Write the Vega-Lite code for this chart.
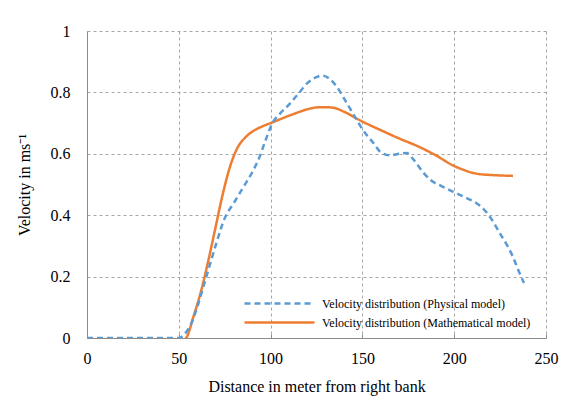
{
  "$schema": "https://vega.github.io/schema/vega-lite/v6.json",
  "width": 459,
  "height": 307,
  "autosize": {"type": "none"},
  "padding": {"left": 87, "top": 31, "right": 36, "bottom": 74},
  "background": "white",
  "config": {
    "view": {"stroke": null},
    "font": "Liberation Serif",
    "axis": {"labelFont": "Liberation Serif", "titleFont": "Liberation Serif"},
    "legend": {"labelFont": "Liberation Serif"}
  },
  "data": {
    "values": [
      {"series": "Velocity distribution (Mathematical model)", "d": 28, "v": 0},
      {"series": "Velocity distribution (Mathematical model)", "d": 35, "v": -0.01},
      {"series": "Velocity distribution (Mathematical model)", "d": 42, "v": -0.02},
      {"series": "Velocity distribution (Mathematical model)", "d": 48, "v": -0.02},
      {"series": "Velocity distribution (Mathematical model)", "d": 54, "v": 0},
      {"series": "Velocity distribution (Mathematical model)", "d": 58, "v": 0.07},
      {"series": "Velocity distribution (Mathematical model)", "d": 62, "v": 0.15},
      {"series": "Velocity distribution (Mathematical model)", "d": 66, "v": 0.25},
      {"series": "Velocity distribution (Mathematical model)", "d": 70, "v": 0.36},
      {"series": "Velocity distribution (Mathematical model)", "d": 74, "v": 0.47},
      {"series": "Velocity distribution (Mathematical model)", "d": 78, "v": 0.56},
      {"series": "Velocity distribution (Mathematical model)", "d": 82, "v": 0.62},
      {"series": "Velocity distribution (Mathematical model)", "d": 86, "v": 0.652},
      {"series": "Velocity distribution (Mathematical model)", "d": 90, "v": 0.672},
      {"series": "Velocity distribution (Mathematical model)", "d": 95, "v": 0.688},
      {"series": "Velocity distribution (Mathematical model)", "d": 100, "v": 0.70},
      {"series": "Velocity distribution (Mathematical model)", "d": 105, "v": 0.712},
      {"series": "Velocity distribution (Mathematical model)", "d": 110, "v": 0.724},
      {"series": "Velocity distribution (Mathematical model)", "d": 115, "v": 0.735},
      {"series": "Velocity distribution (Mathematical model)", "d": 120, "v": 0.745},
      {"series": "Velocity distribution (Mathematical model)", "d": 125, "v": 0.751},
      {"series": "Velocity distribution (Mathematical model)", "d": 130, "v": 0.752},
      {"series": "Velocity distribution (Mathematical model)", "d": 135, "v": 0.749},
      {"series": "Velocity distribution (Mathematical model)", "d": 140, "v": 0.737},
      {"series": "Velocity distribution (Mathematical model)", "d": 150, "v": 0.705},
      {"series": "Velocity distribution (Mathematical model)", "d": 160, "v": 0.677},
      {"series": "Velocity distribution (Mathematical model)", "d": 170, "v": 0.65},
      {"series": "Velocity distribution (Mathematical model)", "d": 180, "v": 0.625},
      {"series": "Velocity distribution (Mathematical model)", "d": 190, "v": 0.595},
      {"series": "Velocity distribution (Mathematical model)", "d": 200, "v": 0.56},
      {"series": "Velocity distribution (Mathematical model)", "d": 205, "v": 0.548},
      {"series": "Velocity distribution (Mathematical model)", "d": 210, "v": 0.538},
      {"series": "Velocity distribution (Mathematical model)", "d": 215, "v": 0.533},
      {"series": "Velocity distribution (Mathematical model)", "d": 220, "v": 0.531},
      {"series": "Velocity distribution (Mathematical model)", "d": 232, "v": 0.528},
      {"series": "Velocity distribution (Physical model)", "d": 0, "v": 0},
      {"series": "Velocity distribution (Physical model)", "d": 10, "v": 0},
      {"series": "Velocity distribution (Physical model)", "d": 20, "v": 0},
      {"series": "Velocity distribution (Physical model)", "d": 30, "v": 0},
      {"series": "Velocity distribution (Physical model)", "d": 40, "v": 0},
      {"series": "Velocity distribution (Physical model)", "d": 50, "v": 0},
      {"series": "Velocity distribution (Physical model)", "d": 53, "v": 0.012},
      {"series": "Velocity distribution (Physical model)", "d": 57, "v": 0.05},
      {"series": "Velocity distribution (Physical model)", "d": 60, "v": 0.1},
      {"series": "Velocity distribution (Physical model)", "d": 65, "v": 0.2},
      {"series": "Velocity distribution (Physical model)", "d": 70, "v": 0.3},
      {"series": "Velocity distribution (Physical model)", "d": 75, "v": 0.39},
      {"series": "Velocity distribution (Physical model)", "d": 80, "v": 0.44},
      {"series": "Velocity distribution (Physical model)", "d": 85, "v": 0.49},
      {"series": "Velocity distribution (Physical model)", "d": 90, "v": 0.54},
      {"series": "Velocity distribution (Physical model)", "d": 94, "v": 0.59},
      {"series": "Velocity distribution (Physical model)", "d": 97, "v": 0.64},
      {"series": "Velocity distribution (Physical model)", "d": 101, "v": 0.70},
      {"series": "Velocity distribution (Physical model)", "d": 105, "v": 0.73},
      {"series": "Velocity distribution (Physical model)", "d": 110, "v": 0.76},
      {"series": "Velocity distribution (Physical model)", "d": 115, "v": 0.795},
      {"series": "Velocity distribution (Physical model)", "d": 120, "v": 0.83},
      {"series": "Velocity distribution (Physical model)", "d": 125, "v": 0.85},
      {"series": "Velocity distribution (Physical model)", "d": 128, "v": 0.855},
      {"series": "Velocity distribution (Physical model)", "d": 132, "v": 0.845},
      {"series": "Velocity distribution (Physical model)", "d": 137, "v": 0.81},
      {"series": "Velocity distribution (Physical model)", "d": 141, "v": 0.77},
      {"series": "Velocity distribution (Physical model)", "d": 145, "v": 0.73},
      {"series": "Velocity distribution (Physical model)", "d": 150, "v": 0.68},
      {"series": "Velocity distribution (Physical model)", "d": 156, "v": 0.635},
      {"series": "Velocity distribution (Physical model)", "d": 160, "v": 0.605},
      {"series": "Velocity distribution (Physical model)", "d": 165, "v": 0.595},
      {"series": "Velocity distribution (Physical model)", "d": 170, "v": 0.6},
      {"series": "Velocity distribution (Physical model)", "d": 174, "v": 0.603},
      {"series": "Velocity distribution (Physical model)", "d": 178, "v": 0.58},
      {"series": "Velocity distribution (Physical model)", "d": 183, "v": 0.54},
      {"series": "Velocity distribution (Physical model)", "d": 187, "v": 0.515},
      {"series": "Velocity distribution (Physical model)", "d": 193, "v": 0.495},
      {"series": "Velocity distribution (Physical model)", "d": 201, "v": 0.472},
      {"series": "Velocity distribution (Physical model)", "d": 207, "v": 0.455},
      {"series": "Velocity distribution (Physical model)", "d": 212, "v": 0.44},
      {"series": "Velocity distribution (Physical model)", "d": 216, "v": 0.42},
      {"series": "Velocity distribution (Physical model)", "d": 220, "v": 0.39},
      {"series": "Velocity distribution (Physical model)", "d": 225, "v": 0.34},
      {"series": "Velocity distribution (Physical model)", "d": 229, "v": 0.3},
      {"series": "Velocity distribution (Physical model)", "d": 232, "v": 0.264},
      {"series": "Velocity distribution (Physical model)", "d": 235, "v": 0.22},
      {"series": "Velocity distribution (Physical model)", "d": 238, "v": 0.179}
    ]
  },
  "mark": {"type": "line", "interpolate": "monotone", "strokeWidth": 2.5, "clip": true},
  "encoding": {
    "x": {
      "field": "d", "type": "quantitative",
      "scale": {"domain": [0, 250], "nice": false},
      "axis": {
        "values": [0, 50, 100, 150, 200, 250],
        "labelFlush": false,
        "title": "Distance in meter from right bank",
        "titleFont": "Liberation Serif", "titleFontSize": 16, "titleFontWeight": "normal", "titleColor": "black",
        "titlePadding": 12,
        "labelFont": "Liberation Serif", "labelFontSize": 16, "labelColor": "black",
        "labelPadding": 16,
        "tickSize": -4, "tickColor": "#8c8c8c",
        "domainColor": "#8c8c8c",
        "grid": true, "gridDash": [3, 3], "gridColor": "#a6a6a6"
      }
    },
    "y": {
      "field": "v", "type": "quantitative",
      "scale": {"domain": [0, 1], "nice": false},
      "axis": {
        "values": [0, 0.2, 0.4, 0.6, 0.8, 1],
        "format": "~g",
        "labelFlush": false,
        "title": "Velocity in ms⁻¹",
        "titleFont": "Liberation Serif", "titleFontSize": 16, "titleFontWeight": "normal", "titleColor": "black",
        "titlePadding": 18,
        "labelFont": "Liberation Serif", "labelFontSize": 16, "labelColor": "black",
        "labelPadding": 17,
        "ticks": false,
        "domainColor": "#8c8c8c",
        "grid": true, "gridDash": [3, 3], "gridColor": "#a6a6a6"
      }
    },
    "color": {
      "field": "series", "type": "nominal",
      "scale": {
        "domain": ["Velocity distribution (Physical model)", "Velocity distribution (Mathematical model)"],
        "range": ["#5B9BD5", "#ED7D31"]
      },
      "legend": {
        "title": null,
        "orient": "none", "legendX": 186, "legendY": 266,
        "symbolType": "M-7,0H7", "symbolSize": 100, "symbolStrokeWidth": 2.5,
        "labelFont": "Liberation Serif", "labelFontSize": 12, "labelColor": "black",
        "labelOffset": 36, "labelLimit": 400, "rowPadding": 6
      }
    },
    "strokeDash": {
      "field": "series", "type": "nominal",
      "scale": {
        "domain": ["Velocity distribution (Physical model)", "Velocity distribution (Mathematical model)"],
        "range": [[6, 4], [1, 0]]
      },
      "legend": null
    }
  }
}
